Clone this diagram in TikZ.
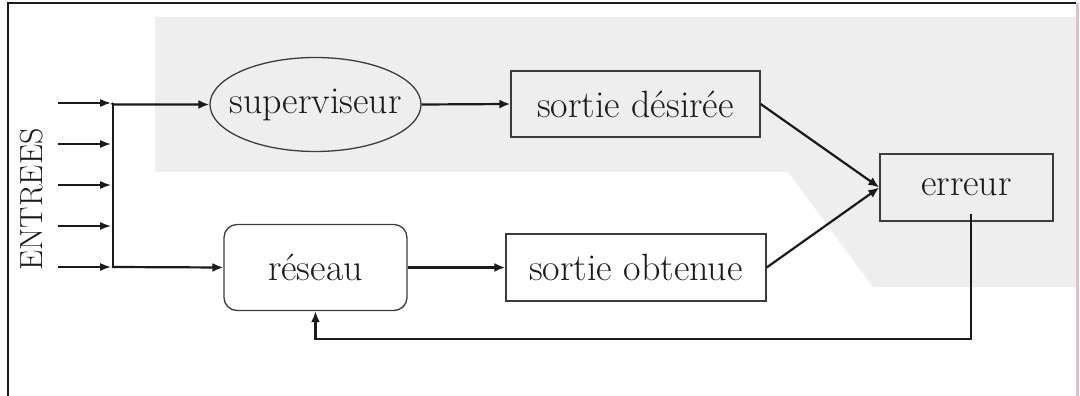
\documentclass[tikz,border=0pt]{standalone}
\usetikzlibrary{arrows.meta,shapes.geometric}
\definecolor{ink}{HTML}{1A1A1A}
\definecolor{zonegray}{HTML}{EEEEEE}
\definecolor{pinkedge}{RGB}{224,190,205}
\tikzset{
  box/.style={draw=ink!85, line width=1.3pt, rectangle, inner sep=0pt, text=ink,
    font=\fontsize{38}{42}\selectfont},
  arr/.style={draw=ink, line width=2.2pt, -{Latex[length=11pt,width=9pt]}},
  inarr/.style={draw=ink, line width=1.3pt, -{Latex[length=11pt,width=8pt]}},
  bus/.style={draw=ink, line width=2.2pt}
}
\begin{document}
\begin{tikzpicture}[x=1pt,y=-1pt]
\useasboundingbox (0,0) rectangle (1080,396);

% shaded supervision zone
\fill[zonegray] (155,17) -- (1076,17) -- (1076,287) -- (873,287) -- (788,172) -- (155,172) -- cycle;

% outer frame
\draw[ink, line width=2.5pt] (8,396) -- (8,3) -- (1076,3);
\draw[pinkedge, line width=3pt] (1077.5,3) -- (1077.5,396);

% blocks
\node[box, ellipse, minimum width=211pt, minimum height=94pt] (sup) at (315.5,104.5)
  {\makebox[140pt][c]{superviseur}};
\node[box, minimum width=249pt, minimum height=66pt] (des) at (635.5,104) {sortie désirée};
\node[box, minimum width=173pt, minimum height=67pt] (err) at (966.5,187.5) {erreur};
\node[box, rounded corners=13pt, minimum width=183pt, minimum height=86pt] (res) at (315.5,267.5) {réseau};
\node[box, minimum width=260pt, minimum height=67pt] (obt) at (636,267.5) {sortie obtenue};

% inputs
\node[text=ink, rotate=90, font=\fontsize{32}{36}\selectfont] (lab) at (31.5,199.5) {ENTREES};
\foreach \i/\y in {1/103,2/144,3/185,4/226,5/267}{
  \coordinate (s\i) at (58,\y);
  \coordinate (t\i) at (111,\y);
  \draw[inarr] (s\i) -- (t\i);
}
\coordinate (btop) at (113,103);
\coordinate (bbot) at (113,267);
\draw[bus] (btop) -- (bbot);
\draw[arr] ([xshift=-1.1pt]btop) -- (btop |- sup.west) -- (sup.west);
\draw[arr] ([xshift=-1.1pt]bbot) -- (res.west);

% signal flow
\draw[arr] (sup.east) -- (des.west);
\draw[arr] (res.east) -- (obt.west);
\draw[arr] (des.east) -- (err.west);
\draw[arr] (obt.east) -- (err.west);

% error feedback
\draw[arr] ([xshift=4.5pt,yshift=8pt]err.south) -- ++(0,125) -| (res.south);
\end{tikzpicture}
\end{document}
